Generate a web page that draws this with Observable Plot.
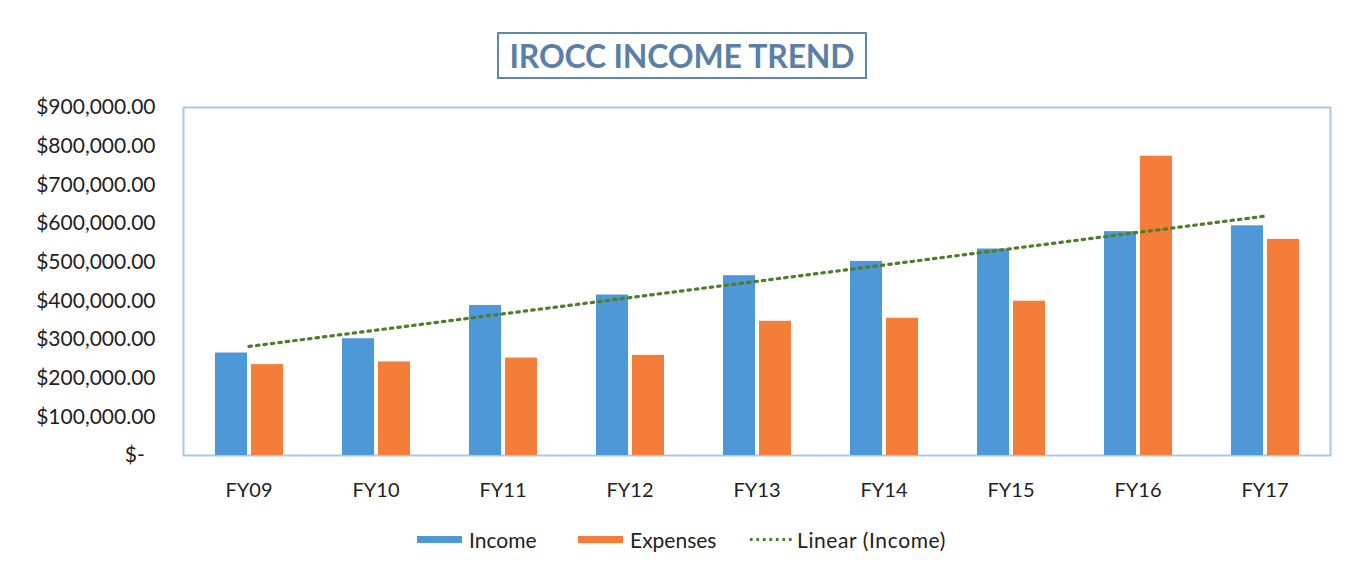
<!DOCTYPE html>
<html>
<head>
<meta charset="utf-8">
<script src="https://cdn.jsdelivr.net/npm/d3@7"></script>
<script src="https://cdn.jsdelivr.net/npm/@observablehq/plot@0.6"></script>
<style>
  html, body { margin: 0; padding: 0; background: #fff; }
  body { width: 1367px; height: 576px; position: relative; overflow: hidden; font-family: Lato, "Open Sans", sans-serif; }
  #title {
    position: absolute; left: 497px; top: 32px; width: 370px; height: 47px;
    border: 2px solid #5f86ab; box-sizing: border-box;
    display: flex; align-items: center; justify-content: center;
    color: #5b80a6; font-weight: 700; font-size: 32px; letter-spacing: -0.2px;
  }
  #chart { position: absolute; left: 0; top: 90px; }
  #legend {
    position: absolute; top: 526px; left: 0; width: 1367px; height: 26px;
    font-size: 21px; color: #222;
  }
  .item { position: absolute; top: 0; height: 26px; display: flex; align-items: center; }
  .sw { display: inline-block; width: 45px; height: 7px; margin-right: 7px; }
  .dots { display: inline-block; width: 45px; height: 3px; margin-right: 4px;
    background-image: radial-gradient(circle, #4f7d2a 1.4px, transparent 1.6px);
    background-size: 6.5px 3px; background-repeat: repeat-x; }
</style>
</head>
<body>
<div id="title">IROCC INCOME TREND</div>
<div id="chart"></div>
<div id="legend">
  <div class="item" style="left:417px"><span class="sw" style="background:#4f98d7"></span>Income</div>
  <div class="item" style="left:578px"><span class="sw" style="background:#f57d3a"></span>Expenses</div>
  <div class="item" style="left:748px; letter-spacing: 0.6px"><span class="dots"></span>Linear (Income)</div>
</div>
<script>
const years = ["FY09", "FY10", "FY11", "FY12", "FY13", "FY14", "FY15", "FY16", "FY17"];
const income = [265000, 302000, 388000, 415000, 465000, 502000, 534000, 579000, 594000];
const expenses = [235000, 242000, 252000, 259000, 347000, 355000, 399000, 774000, 559000];
const trendYears = ["FY09", "FY17"];
const trendValues = [282000, 619000];
const yTicks = [0, 100000, 200000, 300000, 400000, 500000, 600000, 700000, 800000, 900000];

const incomeData = years.map((fy, i) => ({fy, v: income[i]}));
const expenseData = years.map((fy, i) => ({fy, v: expenses[i]}));
const trendData = trendYears.map((fy, i) => ({fy, v: trendValues[i]}));

const fmt = d3.format(",.2f");
const chart = Plot.plot({
  width: 1367,
  height: 430,
  marginLeft: 183,
  marginRight: 37,
  marginTop: 17,
  marginBottom: 65,
  style: {fontFamily: "Lato, 'Open Sans', sans-serif", color: "#222", background: "transparent"},
  x: {domain: years, padding: 0, label: null},
  y: {domain: [0, 900000], label: null},
  marks: [
    Plot.frame({stroke: "#a9c9ea", strokeWidth: 2}),
    Plot.axisY({ticks: yTicks, tickSize: 0, tickPadding: 28, fontSize: 21, label: null,
      tickFormat: d => d === 0 ? "$-\u00a0\u00a0" : "$" + fmt(d)}),
    Plot.axisX({tickSize: 0, tickPadding: 27, fontSize: 20, label: null}),
    Plot.barY(incomeData, {x: "fy", y: "v", fill: "#4f98d7", insetLeft: 30, insetRight: 65}),
    Plot.barY(expenseData, {x: "fy", y: "v", fill: "#f57d3a", insetLeft: 66, insetRight: 29}),
    Plot.line(trendData, {x: "fy", y: "v", stroke: "#4f7d2a", strokeWidth: 3.2,
      strokeDasharray: "2.5,5"})
  ]
});
document.getElementById("chart").appendChild(chart);
</script>
</body>
</html>
